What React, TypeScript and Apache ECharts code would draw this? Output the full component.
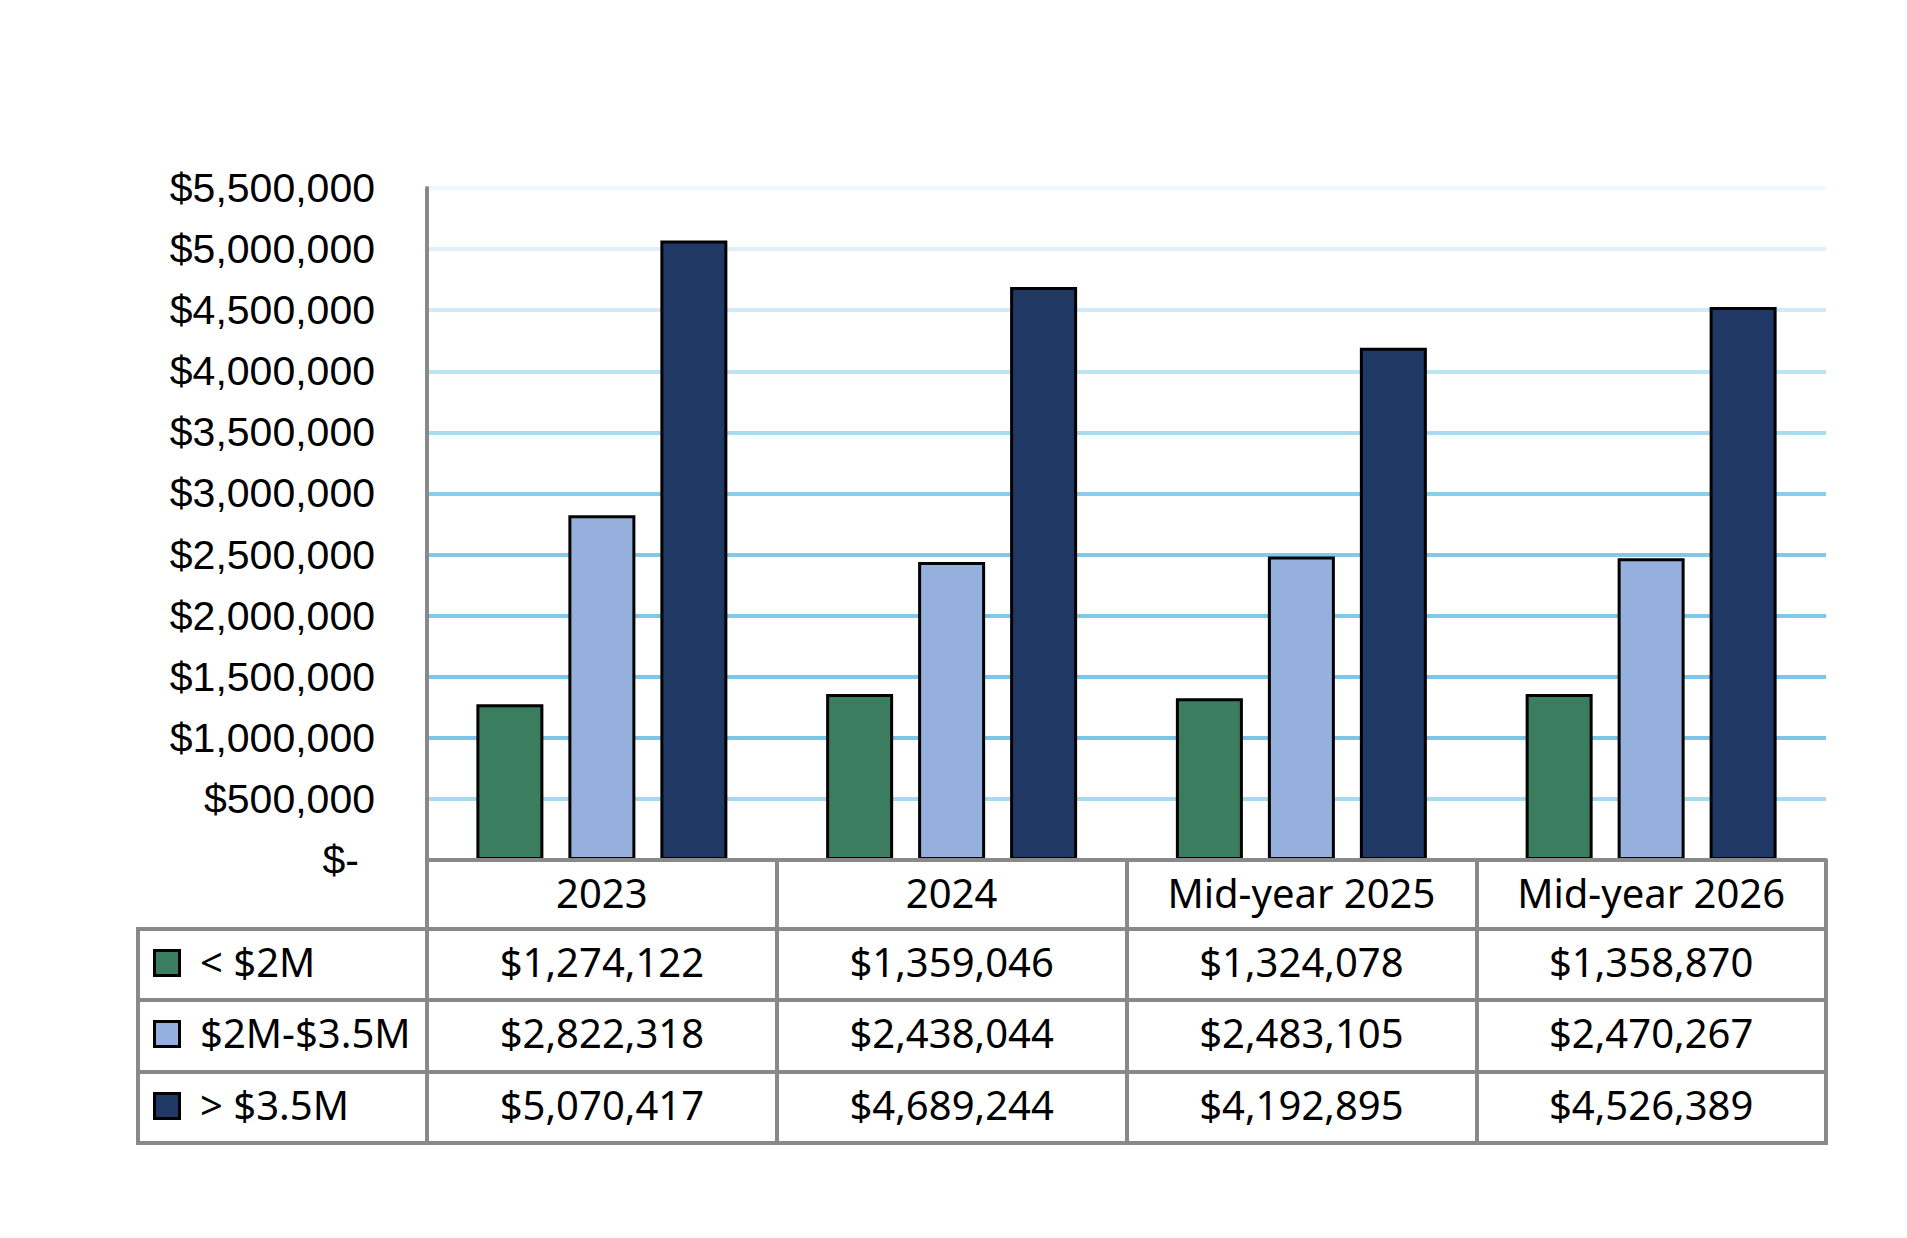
import React, { useEffect, useRef } from "react";
import * as echarts from "echarts";

// ---- data ----
const categories = ["2023", "2024", "Mid-year 2025", "Mid-year 2026"];
const seriesNames = ["< $2M", "$2M-$3.5M", "> $3.5M"];
const under2M = [1274122, 1359046, 1324078, 1358870];
const from2To35M = [2822318, 2438044, 2483105, 2470267];
const over35M = [5070417, 4689244, 4192895, 4526389];
const yMin = 0;
const yMax = 5500000;
const yInterval = 500000;

// ---- styles ----
const seriesColors = ["#3a7d5f", "#95b0dd", "#203864"];
const gridLineColors = [
  "#a7d9ef", "#7dc5e7", "#7ec6e8", "#7fc7e8", "#82c8e9", "#8ccdeb",
  "#a8daf0", "#bde3f4", "#d0eaf7", "#dff0f9", "#eef7fc",
];
const GRAY = "#898989";
const AXIS_FONT = "Liberation Sans";
const TABLE_FONT = "Noto Sans";
const AXIS_SIZE = 41;
const TABLE_SIZE = 40;

const W = 1907;
const H = 1238;
const GRID_LEFT = 427;
const GRID_TOP = 188;
const GRID_RIGHT = 1826;
const AXIS_Y = 860;
const ROW_LINES = [929, 1000, 1072, 1143];
const TABLE_LEFT = 138;
const HEADER_CY = 892;
const ROW_CY = [961, 1032, 1104];

const fmtMoney = (v: number) => "$" + v.toLocaleString("en-US");

export default function App() {
  const ref = useRef<HTMLDivElement>(null);

  useEffect(() => {
    if (!ref.current) return;
    const chart = echarts.init(ref.current, undefined, { renderer: "svg" });
    const rows = [under2M, from2To35M, over35M];

    const rowAxes = rows.map((vals, k) => ({
      type: "category" as const,
      gridIndex: 0,
      position: "bottom" as const,
      data: categories,
      axisLine: { show: false },
      axisTick: { show: false },
      splitLine: { show: false },
      axisLabel: {
        interval: 0,
        margin: ROW_CY[k] - AXIS_Y,
        verticalAlign: "middle",
        fontSize: TABLE_SIZE,
        fontFamily: TABLE_FONT,
        color: "#000",
        formatter: (_v: string, i: number) => fmtMoney(vals[i]),
      },
    }));

    const graphics: any[] = [];
    ROW_LINES.forEach((y) => {
      graphics.push({
        type: "line",
        shape: { x1: TABLE_LEFT - 2, y1: y, x2: GRID_RIGHT + 2, y2: y },
        style: { stroke: GRAY, lineWidth: 4 },
        z: 10,
      });
    });
    graphics.push({
      type: "line",
      shape: { x1: TABLE_LEFT, y1: ROW_LINES[0] - 2, x2: TABLE_LEFT, y2: ROW_LINES[3] + 2 },
      style: { stroke: GRAY, lineWidth: 4 },
      z: 10,
    });
    seriesNames.forEach((name, k) => {
      graphics.push({
        type: "rect",
        shape: { x: 154.5, y: ROW_CY[k] + 2 - 12.5, width: 25, height: 25 },
        style: { fill: seriesColors[k], stroke: "#000", lineWidth: 3 },
        z: 10,
      });
      graphics.push({
        type: "text",
        x: 200,
        y: ROW_CY[k],
        style: {
          text: name,
          fontSize: TABLE_SIZE,
          fontFamily: TABLE_FONT,
          fill: "#000",
          align: "left",
          verticalAlign: "middle",
        },
        z: 10,
      });
    });

    const seriesData = [under2M, from2To35M, over35M];

    chart.setOption({
      animation: false,
      backgroundColor: "#fff",
      grid: {
        left: GRID_LEFT,
        top: GRID_TOP,
        right: W - GRID_RIGHT,
        bottom: H - AXIS_Y,
      },
      xAxis: [
        {
          type: "category",
          gridIndex: 0,
          position: "bottom",
          data: categories,
          z: 10,
          axisLine: { show: true, lineStyle: { color: GRAY, width: 4 } },
          axisTick: {
            show: true,
            interval: 0,
            alignWithLabel: false,
            length: ROW_LINES[3] - AXIS_Y,
            lineStyle: { color: GRAY, width: 4 },
          },
          splitLine: { show: false },
          axisLabel: {
            interval: 0,
            margin: HEADER_CY - AXIS_Y,
            verticalAlign: "middle",
            fontSize: TABLE_SIZE,
            fontFamily: TABLE_FONT,
            color: "#000",
          },
        },
        ...rowAxes,
      ],
      yAxis: {
        type: "value",
        min: yMin,
        max: yMax,
        interval: yInterval,
        axisLine: { show: true, lineStyle: { color: GRAY, width: 4 } },
        axisTick: { show: false },
        splitLine: {
          show: true,
          showMinLine: false,
          lineStyle: { color: gridLineColors, width: 4 },
        },
        axisLabel: {
          margin: 52,
          fontSize: AXIS_SIZE,
          fontFamily: AXIS_FONT,
          color: "#000",
          formatter: (v: number) => (v === 0 ? "{z|$-}" : fmtMoney(v)),
          rich: {
            z: {
              fontSize: AXIS_SIZE,
              fontFamily: AXIS_FONT,
              color: "#000",
              padding: [0, 16, 0, 0],
            },
          },
        },
      },
      series: seriesNames.map((name, k) => ({
        type: "bar",
        name,
        xAxisIndex: 0,
        data: seriesData[k],
        barWidth: 67,
        barGap: "37.3%",
        itemStyle: { color: seriesColors[k], borderColor: "#000", borderWidth: 3 },
      })),
      graphic: graphics,
    });

    return () => chart.dispose();
  }, []);

  return (
    <div
      ref={ref}
      style={{ position: "fixed", left: 0, top: 0, width: W, height: H, background: "#fff" }}
    />
  );
}
